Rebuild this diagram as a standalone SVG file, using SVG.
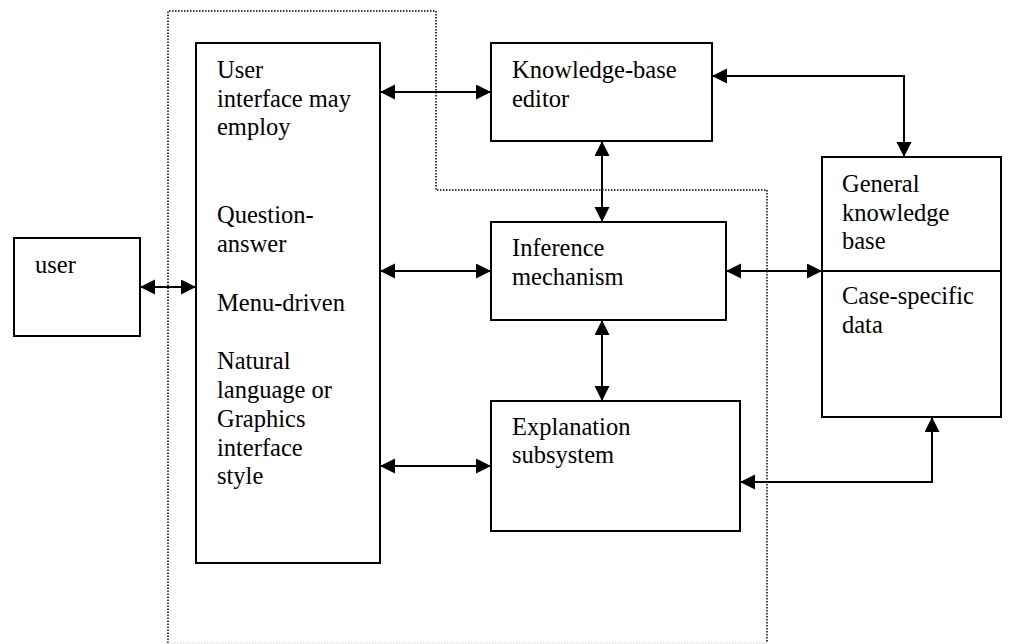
<svg xmlns="http://www.w3.org/2000/svg" width="1014" height="644" viewBox="0 0 1014 644">
<style>
.box{fill:#fff;stroke:#000;stroke-width:2}
.t{font-family:"Liberation Serif","Times New Roman",serif;font-size:24.5px;fill:#000}
.c{fill:none;stroke:#000;stroke-width:2}
.dot{fill:none;stroke:#000;stroke-width:1.5;stroke-dasharray:1.5 1.5}
.dotf{fill:none;stroke:#ccc;stroke-width:1;stroke-dasharray:1.5 1.5}
</style>
<defs>
<marker id="ah" markerUnits="userSpaceOnUse" markerWidth="16" markerHeight="16" refX="15" refY="7.5" orient="auto-start-reverse" viewBox="0 0 16 16">
<path d="M0,0 L15,7.5 L0,15 Z" fill="#000"/>
</marker>
</defs>
<rect width="1014" height="644" fill="#fff"/>
<path class="dot" d="M168,643 L168,11 L436,11 L436,190 L767,190 L767,643"/>
<path class="dotf" d="M168,643 L767,643"/>
<g id="user"><rect class="box" x="14" y="238" width="126" height="98"/><text class="t" x="35" y="273">user</text></g>
<g id="ui"><rect class="box" x="196" y="43" width="184" height="520"/>
<text class="t" x="217" y="78">User</text>
<text class="t" x="217" y="107">interface may</text>
<text class="t" x="217" y="135">employ</text>
<text class="t" x="217" y="223">Question-</text>
<text class="t" x="217" y="252">answer</text>
<text class="t" x="217" y="311">Menu-driven</text>
<text class="t" x="217" y="369">Natural</text>
<text class="t" x="217" y="398">language or</text>
<text class="t" x="217" y="427">Graphics</text>
<text class="t" x="217" y="456">interface</text>
<text class="t" x="217" y="484">style</text>
</g>
<g id="kbe"><rect class="box" x="491" y="43" width="221" height="98"/>
<text class="t" x="512" y="78">Knowledge-base</text>
<text class="t" x="512" y="107">editor</text></g>
<g id="im"><rect class="box" x="491" y="222" width="235" height="98"/>
<text class="t" x="512" y="256">Inference</text>
<text class="t" x="512" y="285">mechanism</text></g>
<g id="es"><rect class="box" x="491" y="401" width="249" height="130"/>
<text class="t" x="512" y="435">Explanation</text>
<text class="t" x="512" y="463">subsystem</text></g>
<g id="gkb"><rect class="box" x="822" y="157" width="179" height="260"/>
<line class="c" x1="822" y1="271" x2="1001" y2="271"/>
<text class="t" x="842" y="192">General</text>
<text class="t" x="842" y="221">knowledge</text>
<text class="t" x="842" y="249">base</text>
<text class="t" x="842" y="304">Case-specific</text>
<text class="t" x="842" y="333">data</text></g>
<g id="connectors">
<line class="c" x1="140" y1="287" x2="196" y2="287" marker-start="url(#ah)" marker-end="url(#ah)"/>
<line class="c" x1="380" y1="92" x2="491" y2="92" marker-start="url(#ah)" marker-end="url(#ah)"/>
<line class="c" x1="380" y1="271" x2="491" y2="271" marker-start="url(#ah)" marker-end="url(#ah)"/>
<line class="c" x1="380" y1="466" x2="491" y2="466" marker-start="url(#ah)" marker-end="url(#ah)"/>
<line class="c" x1="602" y1="141" x2="602" y2="222" marker-start="url(#ah)" marker-end="url(#ah)"/>
<line class="c" x1="602" y1="320" x2="602" y2="401" marker-start="url(#ah)" marker-end="url(#ah)"/>
<polyline class="c" points="712,76 904,76 904,157" marker-start="url(#ah)" marker-end="url(#ah)"/>
<line class="c" x1="726" y1="271" x2="822" y2="271" marker-start="url(#ah)" marker-end="url(#ah)"/>
<polyline class="c" points="740,482 932,482 932,417" marker-start="url(#ah)" marker-end="url(#ah)"/>
</g>
</svg>
